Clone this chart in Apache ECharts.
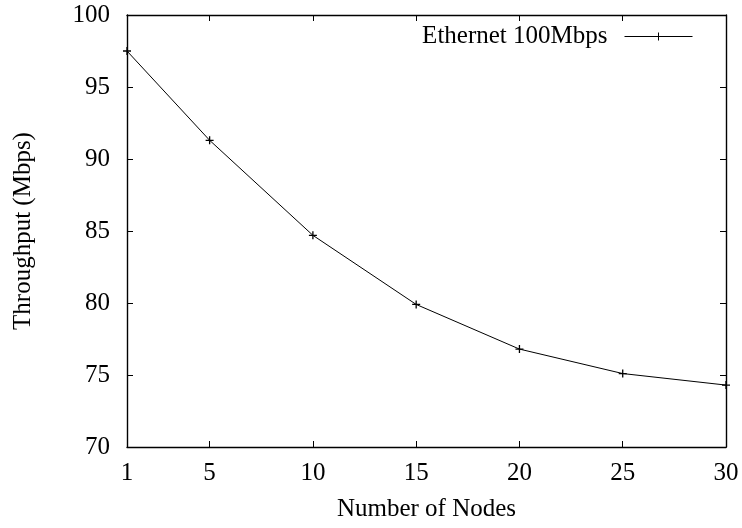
<!DOCTYPE html>
<html>
<head>
<meta charset="utf-8">
<script src="https://cdn.jsdelivr.net/npm/echarts@6/dist/echarts.min.js"></script>
<style>html,body{margin:0;padding:0;background:#fff}#c{width:742px;height:528px}</style>
</head>
<body>
<div id="c"></div>
<script>
var nodes = [1, 5, 10, 15, 20, 25, 30];
var throughput = [97.5, 91.3, 84.7, 79.9, 76.8, 75.1, 74.3];
var xTicks = [1, 5, 10, 15, 20, 25, 30];
var seriesName = 'Ethernet 100Mbps';

var FONT = '"Liberation Serif", "Times New Roman", serif';
var FS = 25;
var plus = 'path://M0,5L10,5M5,0L5,10';
var chart = echarts.init(document.getElementById('c'), null, {renderer: 'canvas'});
var axisLine = {show: true, lineStyle: {color: '#000', width: 1.4}};
chart.setOption({
  animation: false,
  backgroundColor: '#fff',
  grid: {left: 127, right: 16, top: 15, bottom: 81, containLabel: false},
  legend: {
    right: 44, top: 19, align: 'right', itemWidth: 68, itemHeight: 10, itemGap: 0,
    lineStyle: {width: 1, color: '#000'},
    itemStyle: {color: 'transparent', borderColor: '#000', borderWidth: 1},
    textStyle: {fontFamily: FONT, fontSize: FS, color: '#000', padding: [0, 12, 0, 0]},
    data: [seriesName]
  },
  xAxis: [{
    type: 'value', min: 1, max: 30, position: 'bottom',
    name: 'Number of Nodes', nameLocation: 'middle', nameGap: 50,
    nameTextStyle: {fontFamily: FONT, fontSize: FS, color: '#000'},
    axisLine: axisLine,
    axisTick: {show: true, inside: true, length: 6, customValues: xTicks, lineStyle: {color: '#000'}},
    axisLabel: {customValues: xTicks, fontFamily: FONT, fontSize: FS, color: '#000', margin: 14},
    splitLine: {show: false}
  }, {
    type: 'value', min: 1, max: 30, position: 'top',
    axisLine: axisLine,
    axisTick: {show: true, inside: true, length: 6, customValues: xTicks, lineStyle: {color: '#000'}},
    axisLabel: {show: false}, splitLine: {show: false}
  }],
  yAxis: [{
    type: 'value', min: 70, max: 100, interval: 5, position: 'left',
    name: 'Throughput (Mbps)', nameLocation: 'middle', nameGap: 91,
    nameTextStyle: {fontFamily: FONT, fontSize: FS, color: '#000'},
    axisLine: axisLine,
    axisTick: {show: true, inside: true, length: 6, lineStyle: {color: '#000'}},
    axisLabel: {fontFamily: FONT, fontSize: FS, color: '#000', margin: 17},
    splitLine: {show: false}
  }, {
    type: 'value', min: 70, max: 100, interval: 5, position: 'right',
    axisLine: axisLine,
    axisTick: {show: true, inside: true, length: 6, lineStyle: {color: '#000'}},
    axisLabel: {show: false}, splitLine: {show: false}
  }],
  series: [{
    name: seriesName, type: 'line',
    data: nodes.map(function (n, i) { return [n, throughput[i]]; }),
    symbol: plus, symbolSize: 8, showAllSymbol: true,
    lineStyle: {color: '#000', width: 1},
    itemStyle: {color: 'transparent', borderColor: '#000', borderWidth: 1.3},
    clip: false
  }]
});
</script>
</body>
</html>
